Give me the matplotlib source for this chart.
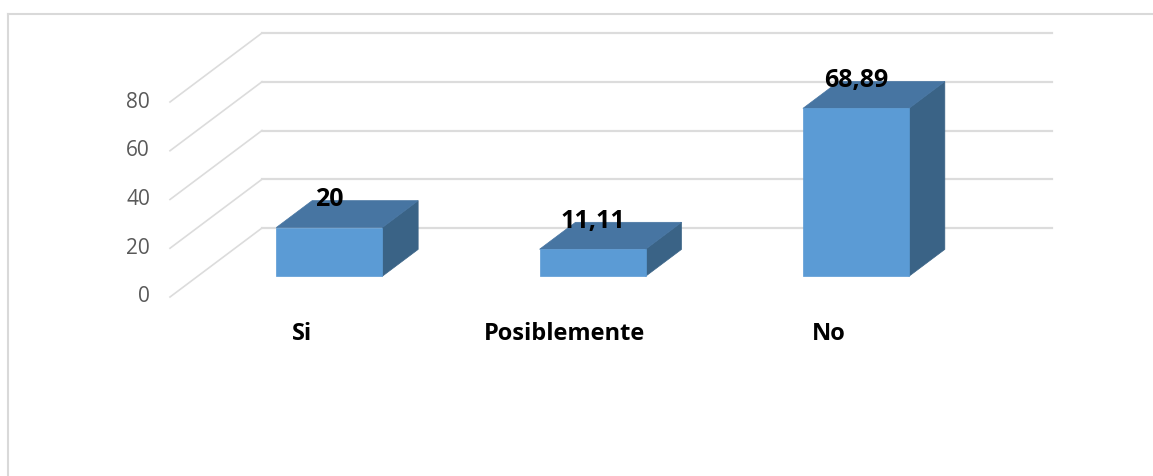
import matplotlib
matplotlib.use("Agg")
import matplotlib.pyplot as plt
from matplotlib.patches import Polygon

categories = ["Si", "Posiblemente", "No"]
values = [20, 11.11, 68.89]
value_labels = ["20", "11,11", "68,89"]
y_ticks = [0, 20, 40, 60, 80]

W, H = 1153, 476
DPI = 100
fig = plt.figure(figsize=(W / DPI, H / DPI), dpi=DPI)
fig.patch.set_facecolor("white")

# front plane of the 3D box
left_px, right_px = 170, 960
base_px, top_px = 297, 102  # y (from top) of value 0 and 80
ax = fig.add_axes([left_px / W, (H - base_px) / H, (right_px - left_px) / W,
                   (base_px - top_px) / H])
ax.set_xlim(-0.5, len(categories) - 0.5)
ax.set_ylim(0, 80)
ax.axis("off")

DEPTH_DX, DEPTH_DY = 92, 69  # pixel shift from front (d=0) to back wall (d=1)


def proj(x, v, d):
    px, py = ax.transData.transform((x, v))
    return (px + DEPTH_DX * d, py + DEPTH_DY * d)


grid_c = "#dcdcdc"
# back wall gridlines + side wall diagonals
for t in y_ticks:
    p0 = proj(-0.5, t, 1)
    p1 = proj(len(categories) - 0.5, t, 1)
    fig.add_artist(plt.Line2D([p0[0], p1[0]], [p0[1], p1[1]], transform=None,
                              color=grid_c, lw=1.6, zorder=1))
    q0 = proj(-0.5, t, 0)
    fig.add_artist(plt.Line2D([q0[0], p0[0]], [q0[1], p0[1]], transform=None,
                              color=grid_c, lw=1.2, zorder=1))
    fig.text(q0[0] - 20, q0[1], str(t), transform=None, ha="right", va="center",
             fontsize=15, color="#595959", family="Open Sans")

# bars
bw = 0.4026
d1, d2 = 0.30, 0.69
front_c, top_c, side_c = "#5B9BD5", "#4775A2", "#3A6386"
for i, (v, lab) in enumerate(zip(values, value_labels)):
    x0, x1 = i - bw / 2, i + bw / 2
    front = [proj(x0, 0, d1), proj(x1, 0, d1), proj(x1, v, d1), proj(x0, v, d1)]
    top = [proj(x0, v, d1), proj(x1, v, d1), proj(x1, v, d2), proj(x0, v, d2)]
    side = [proj(x1, 0, d1), proj(x1, 0, d2), proj(x1, v, d2), proj(x1, v, d1)]
    for poly, c in ((side, side_c), (top, top_c), (front, front_c)):
        fig.add_artist(Polygon(poly, closed=True, transform=None, facecolor=c,
                               edgecolor=c, lw=0.5, zorder=3))
    tx, ty = proj(i, v, d1)
    fig.text(tx, ty + 28, lab, transform=None, ha="center", va="center",
             fontsize=18, fontweight="bold", color="black", family="Open Sans",
             zorder=5)
    cx, cy = proj(i, 0, 0)
    fig.text(cx, H - 334, categories[i], transform=None, ha="center", va="center",
             fontsize=17, fontweight="bold", color="black", family="Open Sans",
             zorder=5)

# chart border (top and left edges visible)
fig.add_artist(plt.Line2D([8, W + 5], [H - 14, H - 14], transform=None,
                          color="#d9d9d9", lw=1.5, zorder=0))
fig.add_artist(plt.Line2D([8, 8], [H - 14, -5], transform=None,
                          color="#d9d9d9", lw=1.5, zorder=0))

fig.savefig("out.png", dpi=DPI, facecolor="white")
